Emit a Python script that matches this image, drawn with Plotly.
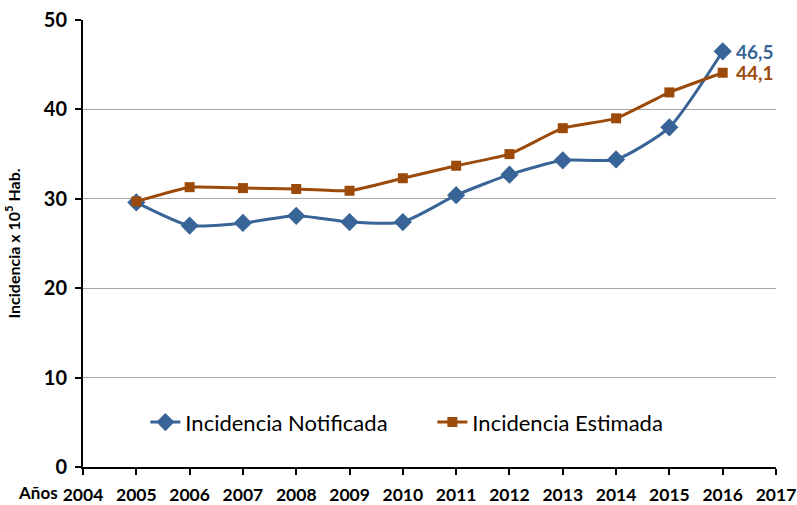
import plotly.graph_objects as go

years = [2005, 2006, 2007, 2008, 2009, 2010, 2011, 2012, 2013, 2014, 2015, 2016]
notificada = [29.6, 27.0, 27.3, 28.1, 27.4, 27.4, 30.4, 32.7, 34.3, 34.4, 38.0, 46.5]
estimada = [29.7, 31.3, 31.2, 31.1, 30.9, 32.3, 33.7, 35.0, 37.9, 39.0, 41.9, 44.1]
x_ticks = list(range(2004, 2018))
y_ticks = [0, 10, 20, 30, 40, 50]

blue = "#396497"
orange = "#9C4A0A"
font = "Lato, Open Sans, sans-serif"

fig = go.Figure()
fig.add_trace(go.Scatter(
    x=years, y=notificada, name="Incidencia Notificada", mode="lines+markers",
    line=dict(color=blue, width=3, shape="spline", smoothing=0.6),
    marker=dict(symbol="diamond", size=14, color=blue),
))
fig.add_trace(go.Scatter(
    x=years, y=estimada, name="Incidencia Estimada", mode="lines+markers",
    line=dict(color=orange, width=3, shape="spline", smoothing=0.4),
    marker=dict(symbol="square", size=10, color=orange),
))

fig.add_annotation(x=years[-1], y=notificada[-1], text="46,5", showarrow=False,
                   xanchor="left", xshift=11,
                   font=dict(color=blue, size=19, family=font, weight="bold"))
fig.add_annotation(x=years[-1], y=estimada[-1], text="44,1", showarrow=False,
                   xanchor="left", xshift=11,
                   font=dict(color=orange, size=19, family=font, weight="bold"))
fig.add_annotation(x=0, y=-0.058, xref="paper", yref="paper", text="Años", showarrow=False,
                   xanchor="right", yanchor="middle", xshift=-23,
                   font=dict(color="black", size=17, family=font, weight="bold"))

fig.update_layout(
    width=797, height=505,
    margin=dict(l=83, r=21, t=20, b=38),
    paper_bgcolor="white", plot_bgcolor="white",
    font=dict(family=font, color="black"),
    showlegend=True,
    legend=dict(orientation="h", x=0.09, y=0.10, xanchor="left", yanchor="middle",
                entrywidth=242, entrywidthmode="pixels",
                font=dict(size=22, family=font, color="black"),
                bgcolor="rgba(0,0,0,0)"),
    xaxis=dict(range=[2004, 2017], tickmode="array", tickvals=x_ticks,
               ticktext=[str(v) for v in x_ticks], automargin=False,
               showline=True, linecolor="black", linewidth=2,
               ticks="outside", ticklen=6, tickwidth=2, tickcolor="black",
               ticklabelstandoff=5, ticklabeloverflow="allow",
               showgrid=False, zeroline=False,
               tickfont=dict(size=17.5, family=font, color="black", weight="bold")),
    yaxis=dict(range=[0, 50], tickmode="array", tickvals=y_ticks, automargin=False,
               showline=True, linecolor="black", linewidth=2,
               ticks="outside", ticklen=6, tickwidth=2, tickcolor="black",
               ticklabelstandoff=4, ticklabeloverflow="allow",
               showgrid=True, gridcolor="#A6A6A6", gridwidth=1, zeroline=False,
               tickfont=dict(size=20, family=font, color="black", weight="bold"),
               title=dict(text="Incidencia x 10<sup>5</sup> Hab.",
                          font=dict(size=16, family=font, color="black", weight="bold"),
                          standoff=19)),
)

fig.write_html(
    "out.html",
    config={"displayModeBar": False},
    post_script="document.body.style.margin='0';document.documentElement.style.overflow='hidden';",
)
